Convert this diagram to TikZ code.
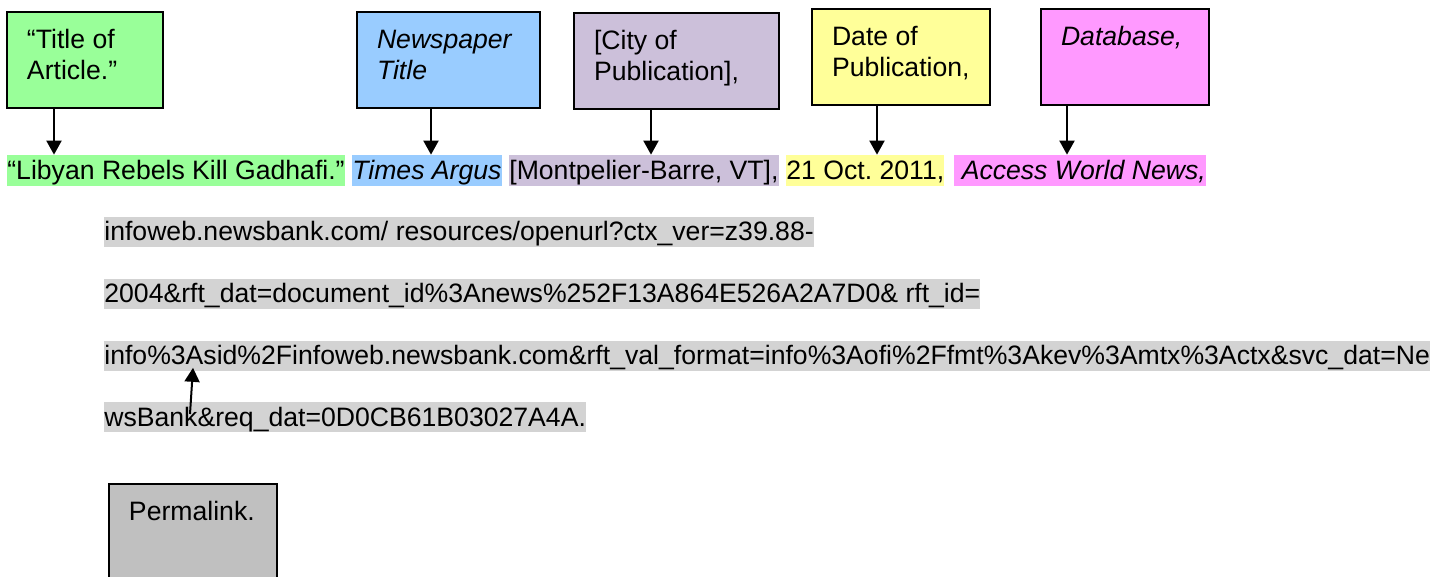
\documentclass[tikz,border=0pt]{standalone}
\usepackage{fontspec}
\setmainfont{Liberation Sans}
\usepackage{xcolor}
\usetikzlibrary{arrows.meta}

\definecolor{titlegreen}{HTML}{99FF99}
\definecolor{paperblue}{HTML}{99CCFF}
\definecolor{citypurple}{HTML}{CCC0DA}
\definecolor{dateyellow}{HTML}{FFFF99}
\definecolor{dbpink}{HTML}{FF99FF}
\definecolor{permgray}{HTML}{C0C0C0}
\definecolor{urlgray}{HTML}{D3D3D3}

\begin{document}
\begin{tikzpicture}[
        x=0.02cm, y=-0.02cm,
        every node/.style={font=\fontsize{15.15}{17.6}\selectfont\frenchspacing},
        box/.style={draw, line width=0.04cm, anchor=north west, inner xsep=0.4cm, inner ysep=0.36cm, align=flush left, text height=0.38cm, text depth=0.82cm},
        hilite/.style={anchor=base west, inner sep=0pt, text height=0.49cm, text depth=0.13cm},
        arr/.style={-{Triangle[width=0.3cm, length=0.28cm]}, line width=0.04cm}
    ]
        \useasboundingbox (0,0) rectangle (1450,577);

        % Boxes
        \node[box, fill=titlegreen, text width=2.32cm] (titlebox) at (6,11) {“Title of\\Article.”};
        \node[box, fill=paperblue, text width=2.86cm] (paperbox) at (356,11) {\textit{Newspaper}\\\textit{Title}};
        \node[box, fill=citypurple, text width=3.3cm] (citybox) at (573,12) {[City of\\Publication],};
        \node[box, fill=dateyellow, text width=2.76cm] (datebox) at (811,8) {Date of\\Publication,};
        \node[box, fill=dbpink, text width=2.56cm] (dbbox) at (1040,8) {\textit{Database,}};
        \node[box, fill=permgray, text width=2.56cm, text depth=1.2cm] (permbox) at (108,483) {Permalink.};

        % Citation line
        \node[hilite, fill=titlegreen] (title) at (7,179.5) {“Libyan Rebels Kill Gadhafi.”};
        \node[hilite, fill=paperblue] (paper) at (352,179.5) {\textit{Times Argus}};
        \node[hilite, fill=citypurple] (city) at (509,179.5) {[Montpelier-Barre, VT],};
        \node[hilite, fill=dateyellow] (date) at (786,179.5) {21 Oct. 2011,};
        \node[hilite, fill=dbpink] (dbase) at (954,179.5) {\ \textit{Access World News,}};

        % URL
        \node[hilite, fill=urlgray] (url1) at (104,241) {infoweb.newsbank.com/ resources/openurl?ctx\_ver=z39.88-};
        \node[hilite, fill=urlgray] (url2) at (104,303) {2004\&rft\_dat=document\_id\%3Anews\%252F13A864E526A2A7D0\& rft\_id=};
        \node[hilite, fill=urlgray] (url3) at (104,365) {info\%3Asid\%2Finfoweb.newsbank.com\&rft\_val\_format=info\%3Aofi\%2Ffmt\%3Akev\%3Amtx\%3Actx\&svc\_dat=Ne};
        \node[hilite, fill=urlgray] (url4) at (104,426) {wsBank\&req\_dat=0D0CB61B03027A4A.};

        % Arrows
        \draw[arr] (54,0 |- titlebox.south) -- (54,0 |- title.north);
        \draw[arr] (431,0 |- paperbox.south) -- (431,0 |- paper.north);
        \draw[arr] (651,0 |- citybox.south) -- (651,0 |- city.north);
        \draw[arr] (877,0 |- datebox.south) -- (877,0 |- date.north);
        \draw[arr] (1067,0 |- dbbox.south) -- (1067,0 |- dbase.north);

        \coordinate (permtail) at (190,414);
        \draw[arr] (permtail) -- ([yshift=0.08cm]193,0 |- url3.south);

    \end{tikzpicture}
\end{document}
